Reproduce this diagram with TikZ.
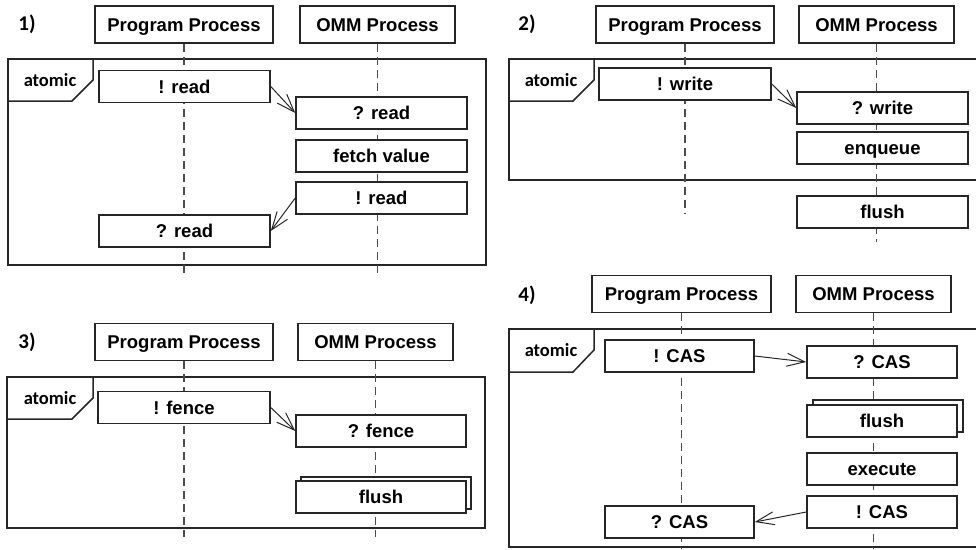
\documentclass[tikz,border=0pt]{standalone}
\usepackage{fontspec}
\setmainfont{Liberation Sans}
\newfontfamily\boxfont{Liberation Sans Bold}
\newfontfamily\calibrifont{Carlito Bold}
\usetikzlibrary{arrows.meta, backgrounds}

\begin{document}
\begin{tikzpicture}[x=1pt, y=-1pt,
    proc/.style={draw=black!85, line width=1.5pt, fill=white, minimum height=37pt,
      inner sep=0pt, text height=13.5pt, text depth=0pt,
      font=\fontsize{18.5}{22}\boxfont},
    act/.style={draw=black!85, line width=1.5pt, fill=white, minimum height=32pt,
      inner sep=0pt, text height=13.5pt, text depth=0pt,
      font=\fontsize{18.5}{22}\boxfont},
    lifeline/.style={black!70, line width=1.2pt, dash pattern=on 8pt off 5pt},
    frm/.style={black!85, line width=1.5pt},
    msg/.style={black!85, line width=1pt, -{Straight Barb[length=18pt,width=13pt]}},
    tag/.style={font=\fontsize{18.5}{22}\calibrifont},
    num/.style={font=\fontsize{21}{24}\calibrifont}]
  \useasboundingbox (0,0) rectangle (976,549);

  % 1) read
  \node[num] (n1) at (27,24) {1)};
  \node[proc, minimum width=178pt] (p1prog) at (184,24.5) {Program Process};
  \node[proc, minimum width=155pt] (p1omm) at (377.5,24.5) {OMM Process};
  \coordinate (p1prog-end) at (184,277);
  \coordinate (p1omm-end) at (377.5,277);
  \node[tag] (t1) at (50,80) {atomic};
  \node[act, minimum width=171pt] (p1sendread) at (184.5,86.5) {! read};
  \node[act, minimum width=171pt] (p1recvread) at (381.5,113) {? read};
  \node[act, minimum width=171pt] (p1fetch) at (381.5,156) {fetch value};
  \node[act, minimum width=171pt] (p1reply) at (381.5,198) {! read};
  \node[act, minimum width=171pt] (p1result) at (184.5,231) {? read};
  \draw[msg] (p1sendread.east) -- (p1recvread.west);
  \draw[msg] (p1reply.west) -- (p1result.east);

  % 2) write
  \node[num] (n2) at (527,24) {2)};
  \node[proc, minimum width=178pt] (p2prog) at (685,24.5) {Program Process};
  \node[proc, minimum width=155pt] (p2omm) at (876.5,24.5) {OMM Process};
  \coordinate (p2prog-end) at (685,213);
  \coordinate (p2omm-end) at (876.5,242);
  \node[tag] (t2) at (551,80) {atomic};
  \node[act, minimum width=172pt] (p2sendwrite) at (685,84) {! write};
  \node[act, minimum width=171pt] (p2recvwrite) at (882.5,108) {? write};
  \node[act, minimum width=171pt] (p2enqueue) at (882.5,148) {enqueue};
  \node[act, minimum width=171pt] (p2flush) at (882.5,212) {flush};
  \draw[msg] (p2sendwrite.east) -- (p2recvwrite.west);

  % 3) fence
  \node[num] (n3) at (27,342) {3)};
  \node[proc, minimum width=178pt] (p3prog) at (184,342) {Program Process};
  \node[proc, minimum width=155pt] (p3omm) at (375.5,342) {OMM Process};
  \coordinate (p3prog-end) at (184,537);
  \coordinate (p3omm-end) at (375.5,537);
  \node[tag] (t3) at (50,398) {atomic};
  \node[act, minimum width=172pt] (p3sendfence) at (184,407.5) {! fence};
  \node[act, minimum width=170pt] (p3recvfence) at (381,431) {? fence};
  \node[act, minimum width=170pt] (p3flushback) at (386,493) {};
  \node[act, minimum width=170pt] (p3flush) at (381,497) {flush};
  \draw[msg] (p3sendfence.east) -- (p3recvfence.west);

  % 4) CAS
  \node[num] (n4) at (527,295) {4)};
  \node[proc, minimum width=179pt] (p4prog) at (681.5,294) {Program Process};
  \node[proc, minimum width=155pt] (p4omm) at (873.5,294) {OMM Process};
  \coordinate (p4prog-end) at (681.5,549);
  \coordinate (p4omm-end) at (873.5,549);
  \node[tag] (t4) at (551,350) {atomic};
  \node[act, minimum width=149pt] (p4sendcas) at (679.5,356) {! CAS};
  \node[act, minimum width=150pt] (p4recvcas) at (882,362) {? CAS};
  \node[act, minimum width=150pt] (p4flushback) at (888,416) {};
  \node[act, minimum width=150pt] (p4flush) at (882,421) {flush};
  \node[act, minimum width=150pt] (p4exec) at (882,469) {execute};
  \node[act, minimum width=150pt] (p4reply) at (882,512) {! CAS};
  \node[act, minimum width=149pt] (p4result) at (679.5,522) {? CAS};
  \draw[msg] (p4sendcas.east) -- (p4recvcas.west);
  \draw[msg] (p4reply.west) -- (p4result.east);

  % Frames and lifelines behind the boxes
  \begin{scope}[on background layer]
    \draw[frm] (8,59) rectangle (486,265);
    \draw[frm] (93,59) -- (93,80) -- (72,101) -- (8,101);
    \draw[frm] (976,59) -- (509,59) -- (509,180) -- (976,180);
    \draw[frm] (594,59) -- (594,80) -- (573,101) -- (509,101);
    \draw[frm] (7,377) rectangle (485,528);
    \draw[frm] (93,377) -- (93,398) -- (72,419) -- (7,419);
    \draw[frm] (976,329) -- (509,329) -- (509,547) -- (976,547);
    \draw[frm] (594,329) -- (594,350) -- (573,372) -- (509,372);
    \foreach \a in {p1prog,p1omm,p2prog,p2omm,p3prog,p3omm,p4prog,p4omm}
      \draw[lifeline] (\a.south) -- (\a-end);
  \end{scope}
\end{tikzpicture}
\end{document}
